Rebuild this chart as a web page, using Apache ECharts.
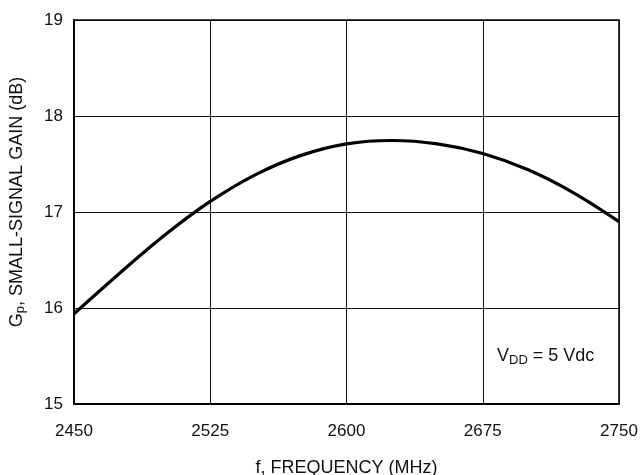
<!DOCTYPE html>
<html>
<head>
<meta charset="utf-8">
<script src="https://cdn.jsdelivr.net/npm/echarts@6/dist/echarts.min.js"></script>
<style>html,body{margin:0;padding:0;background:#fff;}#c{width:641px;height:475px;}</style>
</head>
<body>
<div id="c"></div>
<script>
var frequencies = [2450, 2475, 2500, 2525, 2550, 2575, 2600, 2625, 2650, 2675, 2700, 2725, 2750];
var gainValues = [15.94, 16.36, 16.76, 17.11, 17.39, 17.59, 17.71, 17.745, 17.71, 17.61, 17.44, 17.20, 16.90];
var xTicks = [2450, 2525, 2600, 2675, 2750];
var yTicks = [15, 16, 17, 18, 19];

var FONT = '"Liberation Sans", Arial, sans-serif';
var chart = echarts.init(document.getElementById('c'), null, {renderer: 'canvas'});
var points = frequencies.map(function (f, i) { return [f, gainValues[i]]; });

chart.setOption({
  animation: false,
  backgroundColor: '#fff',
  grid: {left: 74, right: 22, top: 20, bottom: 71, show: true, borderColor: '#000', borderWidth: 1.5,
         containLabel: false, outerBoundsMode: 'none'},
  xAxis: {
    type: 'value', min: 2450, max: 2750, interval: 75,
    name: 'f, FREQUENCY (MHz)', nameLocation: 'middle', nameGap: 55,
    nameTextStyle: {fontFamily: FONT, fontSize: 18, color: '#111'},
    axisLine: {show: true, lineStyle: {color: '#000', width: 2}},
    axisTick: {show: false},
    axisLabel: {fontFamily: FONT, fontSize: 17, color: '#111', margin: 19,
      formatter: function (v) { return xTicks.indexOf(v) >= 0 ? String(v) : ''; }},
    splitLine: {show: true, lineStyle: {color: '#111', width: 1}}
  },
  yAxis: {
    type: 'value', min: 15, max: 19, interval: 1,
    name: '{m|G}{s|p}{m|, SMALL-SIGNAL GAIN (dB)}', nameLocation: 'middle', nameGap: 47, nameRotate: 90,
    nameTextStyle: {
      fontFamily: FONT, fontSize: 18, color: '#111', padding: [0, 0, 0, 20],
      rich: {
        m: {fontFamily: FONT, fontSize: 18, color: '#111'},
        s: {fontFamily: FONT, fontSize: 13, color: '#111', padding: [7, 0, 0, 0]}
      }
    },
    axisLine: {show: true, lineStyle: {color: '#000', width: 2}},
    axisTick: {show: false},
    axisLabel: {fontFamily: FONT, fontSize: 17, color: '#111', margin: 11,
      formatter: function (v) { return yTicks.indexOf(v) >= 0 ? String(v) : ''; }},
    splitLine: {show: true, lineStyle: {color: '#111', width: 1}}
  },
  series: [{
    type: 'line', data: points, smooth: 0.35, showSymbol: false,
    lineStyle: {color: '#000', width: 3.2}
  }],
  graphic: [{
    type: 'text', left: 497, top: 347,
    style: {
      text: '{m|V}{s|DD}{m| = 5 Vdc}',
      rich: {
        m: {fontFamily: FONT, fontSize: 18, fill: '#111'},
        s: {fontFamily: FONT, fontSize: 13, fill: '#111', padding: [9, 0, 0, 0]}
      }
    }
  }]
});
</script>
</body>
</html>
